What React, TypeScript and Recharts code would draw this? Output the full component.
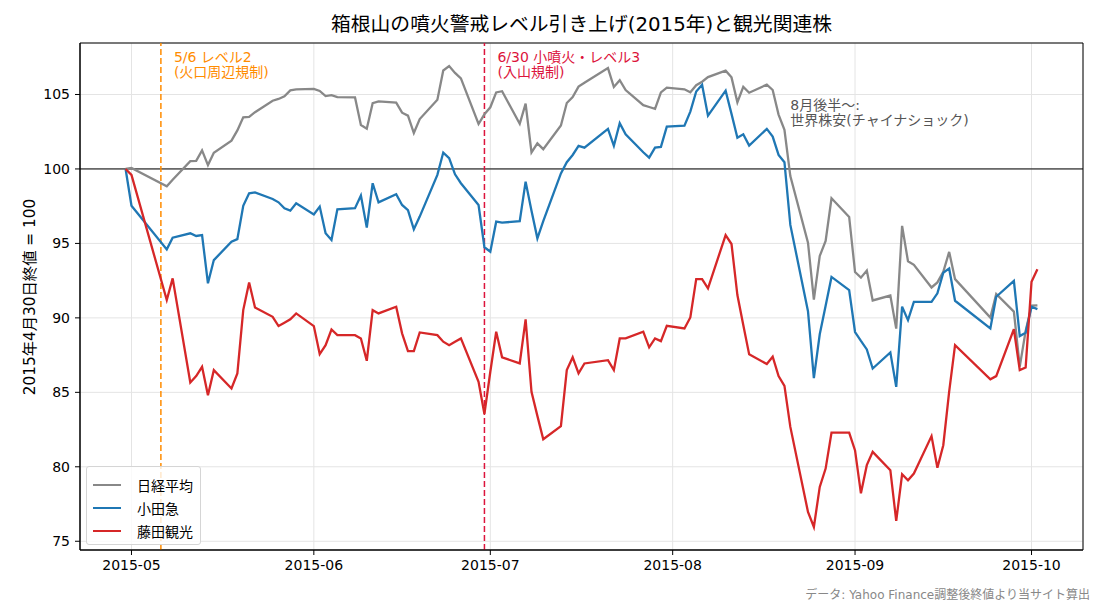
import React from "react";
import { LineChart, Line, XAxis, YAxis, CartesianGrid, ReferenceLine, ReferenceArea, ReferenceDot, Legend } from "recharts";

const FONT = '"DejaVu Sans", "Noto Sans CJK JP", sans-serif';

// 取引日 (2015/4/30 = 100 に正規化)
const dates = [
  "2015-04-30", "2015-05-01", "2015-05-07", "2015-05-08", "2015-05-11", "2015-05-12", "2015-05-13", "2015-05-14", "2015-05-15",
  "2015-05-18", "2015-05-19", "2015-05-20", "2015-05-21", "2015-05-22", "2015-05-25", "2015-05-26", "2015-05-27", "2015-05-28", "2015-05-29",
  "2015-06-01", "2015-06-02", "2015-06-03", "2015-06-04", "2015-06-05", "2015-06-08", "2015-06-09", "2015-06-10", "2015-06-11", "2015-06-12",
  "2015-06-15", "2015-06-16", "2015-06-17", "2015-06-18", "2015-06-19", "2015-06-22", "2015-06-23", "2015-06-24", "2015-06-25", "2015-06-26",
  "2015-06-29", "2015-06-30",
  "2015-07-01", "2015-07-02", "2015-07-03", "2015-07-06", "2015-07-07", "2015-07-08", "2015-07-09", "2015-07-10", "2015-07-13", "2015-07-14",
  "2015-07-15", "2015-07-16", "2015-07-17", "2015-07-21", "2015-07-22", "2015-07-23", "2015-07-24", "2015-07-27", "2015-07-28", "2015-07-29",
  "2015-07-30", "2015-07-31",
  "2015-08-03", "2015-08-04", "2015-08-05", "2015-08-06", "2015-08-07", "2015-08-10", "2015-08-11", "2015-08-12", "2015-08-13", "2015-08-14",
  "2015-08-17", "2015-08-18", "2015-08-19", "2015-08-20", "2015-08-21", "2015-08-24", "2015-08-25", "2015-08-26", "2015-08-27", "2015-08-28",
  "2015-08-31",
  "2015-09-01", "2015-09-02", "2015-09-03", "2015-09-04", "2015-09-07", "2015-09-08", "2015-09-09", "2015-09-10", "2015-09-11", "2015-09-14",
  "2015-09-15", "2015-09-16", "2015-09-17", "2015-09-18", "2015-09-24", "2015-09-25", "2015-09-28", "2015-09-29", "2015-09-30",
  "2015-10-01", "2015-10-02",
];

const nikkei = [
  100, 100.06, 98.83, 99.28, 100.52, 100.54, 101.25, 100.26, 101.09,
  101.9, 102.59, 103.47, 103.5, 103.81, 104.58, 104.7, 104.88, 105.28, 105.34,
  105.38, 105.24, 104.89, 104.96, 104.82, 104.8, 102.95, 102.7, 104.42, 104.54,
  104.45, 103.78, 103.58, 102.41, 103.35, 104.65, 106.61, 106.91, 106.45, 106.08,
  103.02, 103.67,
  104.14, 105.14, 105.22, 103.03, 104.39, 101.11, 101.72, 101.33, 102.92, 104.43,
  104.83, 105.53, 105.79, 106.77, 105.5, 105.96, 105.3, 104.28, 104.16, 104.04,
  105.14, 105.46,
  105.35, 105.15, 105.62, 105.86, 106.17, 106.6, 106.15, 104.47, 105.51, 105.12,
  105.66, 105.3, 103.65, 102.63, 99.52, 95.05, 91.22, 94.16, 95.16, 98.03,
  96.78,
  93.08, 92.7, 93.18, 91.17, 91.5, 89.28, 96.18, 93.8, 93.56, 92.04,
  92.38, 93.09, 94.43, 92.6, 90.02, 91.6, 90.42, 86.73, 89.12,
  90.82, 90.84,
];

const odakyu = [
  100, 97.53, 94.6, 95.38, 95.68, 95.5, 95.56, 92.32, 93.88,
  95.11, 95.29, 97.53, 98.36, 98.43, 97.98, 97.76, 97.36, 97.2, 97.7,
  96.95, 97.47, 95.68, 95.23, 97.29, 97.36, 98.21, 96.06, 99.04, 97.76,
  98.3, 97.58, 97.24, 95.95, 96.8, 99.6, 101.1, 100.72, 99.64, 99.04,
  97.58, 94.74,
  94.44, 96.46, 96.39, 96.5, 99.15, 97.2, 95.34, 96.5, 99.7, 100.45,
  100.94, 101.55, 101.43, 102.69, 101.55, 103.07, 102.33, 101.12, 100.76, 101.43,
  101.48, 102.84,
  102.91, 103.85, 105.2, 105.65, 103.58, 105.26, 103.7, 102.1, 102.33, 101.57,
  102.69, 102.17, 100.94, 100.45, 96.24, 90.45, 85.95, 88.9, 90.81, 92.75,
  91.87,
  89.05, 88.45, 87.88, 86.6, 87.68, 85.37, 90.75, 89.85, 91.08, 91.08,
  91.65, 93.03, 93.32, 91.15, 89.29, 91.42, 92.49, 88.78, 89.0,
  90.75, 90.59,
];

const fujita = [
  100, 99.6, 91.2, 92.65, 85.66, 86.09, 86.71, 84.81, 86.49,
  85.26, 86.27, 90.52, 92.38, 90.7, 90.07, 89.45, 89.67, 89.9, 90.3,
  89.45, 87.57, 88.17, 89.22, 88.84, 88.84, 88.62, 87.12, 90.52, 90.3,
  90.75, 88.96, 87.77, 87.77, 89.02, 88.84, 88.4, 88.17, 88.4, 88.62,
  85.71, 83.55,
  86.38, 89.07, 87.35, 86.94, 89.9, 85.03, 83.42, 81.85, 82.73, 86.49,
  87.35, 86.27, 86.94, 87.16, 86.49, 88.62, 88.62, 89.07, 88.02, 88.62,
  88.44, 89.47,
  89.29, 90.03, 92.6, 92.6, 91.98, 95.56, 94.96, 91.53, 89.52, 87.55,
  86.9, 87.39, 86.09, 85.44, 82.68, 76.97, 75.96, 78.65, 79.88, 82.3,
  82.3,
  81.1, 78.22, 80.11, 81.0, 79.77, 76.37, 79.5, 79.1, 79.55, 82.06,
  79.93, 81.45, 85.04, 88.17, 85.87, 86.09, 89.25, 86.49, 86.67,
  92.43, 93.26,
];

const series = [
  { key: "nikkei", name: "日経平均", color: "#888888" },
  { key: "odakyu", name: "小田急", color: "#1f77b4" },
  { key: "fujita", name: "藤田観光", color: "#d62728" },
];

const monthTicks = ["2015-05-01", "2015-06-01", "2015-07-01", "2015-08-01", "2015-09-01", "2015-10-01"];
const yTicks = [75, 80, 85, 90, 95, 100, 105];

const toTime = (s: string) => Date.parse(s + "T00:00:00Z");

const rows = dates.map((d, i) => ({ t: toTime(d), nikkei: nikkei[i], odakyu: odakyu[i], fujita: fujita[i] }));

// matplotlib風の5%マージン
const tFirst = rows[0].t;
const tLast = rows[rows.length - 1].t;
const xPad = (tLast - tFirst) * 0.05;
const allVals = [...nikkei, ...odakyu, ...fujita];
const vMin = Math.min(...allVals);
const vMax = Math.max(...allVals);
const yPad = (vMax - vMin) * 0.05;
const xDomain = [tFirst - xPad, tLast + xPad];
const yDomain = [vMin - yPad, vMax + yPad];

const fmtMonth = (v: number) => {
  const d = new Date(v);
  return `${d.getUTCFullYear()}-${String(d.getUTCMonth() + 1).padStart(2, "0")}`;
};

const eventLabel = (lines: string[], color: string) => (props: any) => {
  const { viewBox } = props;
  const x = viewBox.x + 13;
  const y = viewBox.y + 19;
  return (
    <text x={x} y={y} fill={color} fontSize={14} fontFamily={FONT}>
      {lines.map((l, i) => (
        <tspan key={i} x={x} dy={i === 0 ? 0 : 15}>{l}</tspan>
      ))}
    </text>
  );
};

const noteLabel = (props: any) => {
  const { viewBox } = props;
  const x = viewBox.x;
  const y = viewBox.y + 1;
  return (
    <text x={x} y={y} fill="#555555" fontSize={14} fontFamily={FONT}>
      <tspan x={x} dy={0}>8月後半〜:</tspan>
      <tspan x={x} dy={15}>世界株安(チャイナショック)</tspan>
    </text>
  );
};

const LegendBox = ({ payload }: any) => {
  const items = [...(payload || [])].sort(
    (a: any, b: any) => series.findIndex((s) => s.name === a.value) - series.findIndex((s) => s.name === b.value)
  );
  return (
    <div
      style={{
        border: "1px solid #d5d5d5",
        borderRadius: 3,
        background: "rgba(255,255,255,0.8)",
        padding: "6px 7px 2px 6px",
        fontFamily: FONT,
        fontSize: 14,
        color: "#000",
      }}
    >
      {items.map((p: any) => (
        <div key={p.value} style={{ display: "flex", alignItems: "center", height: 23 }}>
          <span style={{ display: "inline-block", width: 28, height: 0, borderTop: `2.2px solid ${p.color}`, marginRight: 16 }} />
          <span>{p.value}</span>
        </div>
      ))}
    </div>
  );
};

export default function App() {
  return (
    <div style={{ position: "fixed", left: 0, top: 0, width: 1100, height: 605, background: "#fff", fontFamily: FONT }}>
      <div style={{ position: "absolute", left: 80, width: 1003, top: 12, lineHeight: "26px", textAlign: "center", fontSize: 19.8 }}>
        箱根山の噴火警戒レベル引き上げ(2015年)と観光関連株
      </div>
      <div
        style={{
          position: "absolute",
          left: 28,
          top: 296.5,
          transform: "translate(-50%, -50%) rotate(-90deg)",
          whiteSpace: "nowrap",
          fontSize: 15.3,
        }}
      >
        2015年4月30日終値 = 100
      </div>
      <div style={{ position: "absolute", right: 10, top: 585, fontSize: 12, color: "#888", whiteSpace: "nowrap" }}>
        データ: Yahoo Finance調整後終値より当サイト算出
      </div>

      <LineChart width={1100} height={605} data={rows} margin={{ top: 43, right: 17, bottom: 25, left: 0 }}>
        <CartesianGrid stroke="#e4e4e4" strokeWidth={1} />
        <XAxis
          type="number"
          dataKey="t"
          domain={xDomain}
          ticks={monthTicks.map(toTime)}
          tickFormatter={fmtMonth}
          allowDataOverflow
          height={30}
          tickSize={5}
          tickMargin={5}
          stroke="#000"
          tick={{ fill: "#000", fontSize: 14, fontFamily: FONT }}
        />
        <YAxis
          type="number"
          domain={yDomain}
          ticks={yTicks}
          allowDataOverflow
          width={80}
          tickSize={5}
          tickMargin={5}
          stroke="#000"
          tick={{ fill: "#000", fontSize: 14, fontFamily: FONT }}
        />
        <ReferenceArea x1={xDomain[0]} x2={xDomain[1]} y1={yDomain[0]} y2={yDomain[1]} fill="none" stroke="#000" strokeWidth={1} />
        <ReferenceLine y={100} stroke="#000" strokeWidth={1} />
        <ReferenceLine
          x={toTime("2015-05-06")}
          stroke="#ff8c00"
          strokeWidth={1.5}
          strokeDasharray="6 3"
          label={eventLabel(["5/6 レベル2", "(火口周辺規制)"], "#ff8c00")}
        />
        <ReferenceLine
          x={toTime("2015-06-30")}
          stroke="#dc143c"
          strokeWidth={1.5}
          strokeDasharray="6 3"
          label={eventLabel(["6/30 小噴火・レベル3", "(入山規制)"], "#dc143c")}
        />
        <ReferenceDot x={toTime("2015-08-21")} y={104} r={0} fill="none" stroke="none" label={noteLabel} />
        {series.map((s) => (
          <Line
            key={s.key}
            type="linear"
            dataKey={s.key}
            name={s.name}
            stroke={s.color}
            strokeWidth={2.3}
            dot={false}
            activeDot={false}
            isAnimationActive={false}
          />
        ))}
        <Legend
          layout="vertical"
          align="center"
          verticalAlign="middle"
          content={<LegendBox />}
          wrapperStyle={{ left: 86, top: 466, width: "auto", height: "auto" }}
        />
      </LineChart>
    </div>
  );
}
